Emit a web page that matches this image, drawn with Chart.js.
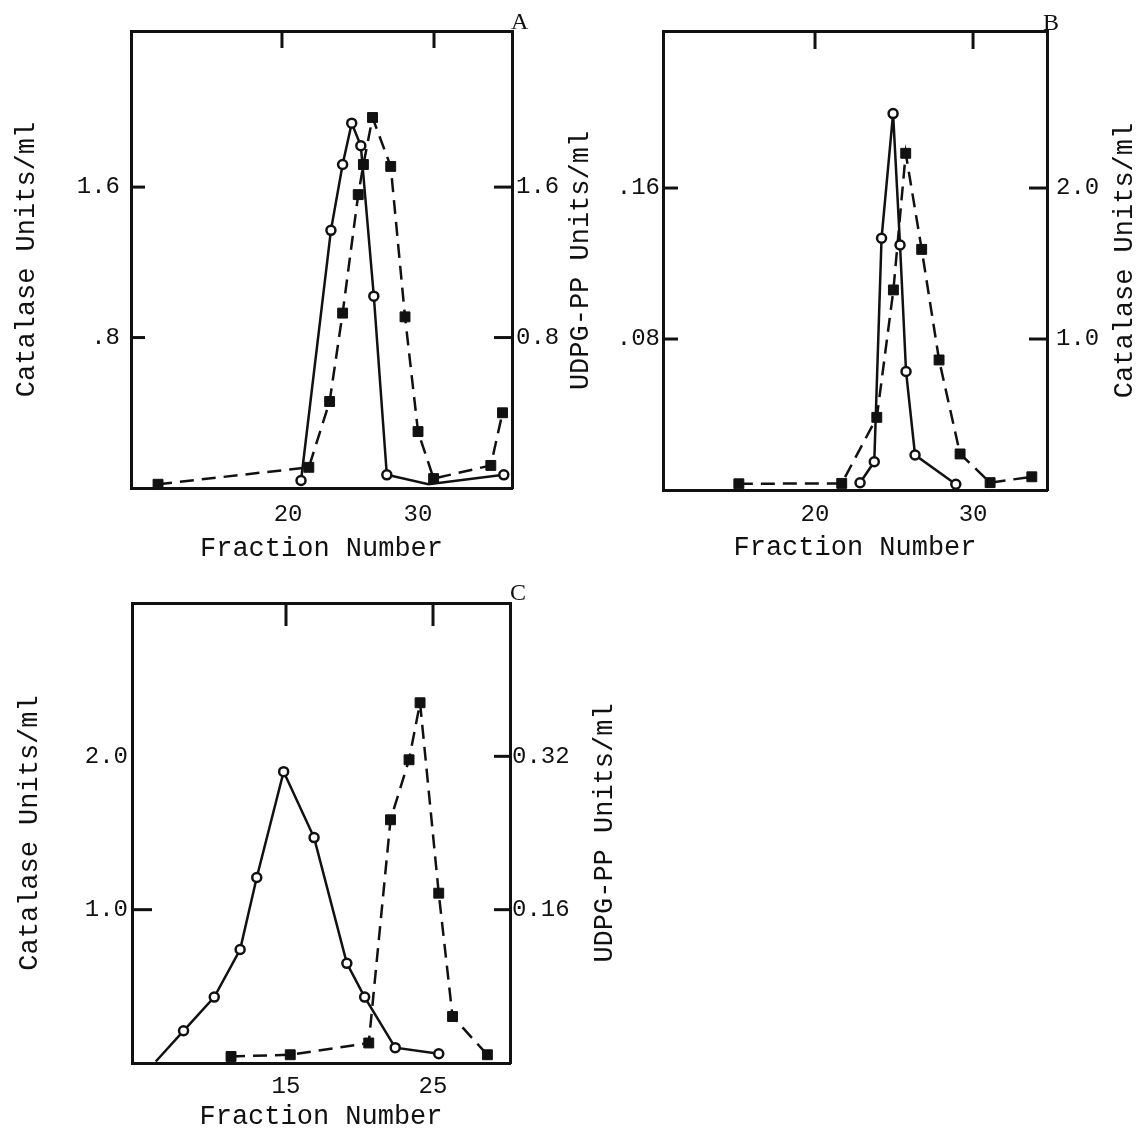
<!DOCTYPE html>
<html>
<head>
<meta charset="utf-8">
<script src="https://cdn.jsdelivr.net/npm/chart.js@4.4.1/dist/chart.umd.min.js"></script>
<style>
  html, body { margin: 0; padding: 0; background: #fff; }
  body { width: 1138px; height: 1130px; position: relative; overflow: hidden; }
  .panel { position: absolute; }
  .tag { position: absolute; font-family: "Liberation Serif", "DejaVu Serif", serif; font-size: 24px; line-height: 24px; color: #111; }
</style>
</head>
<body>
<div class="panel" style="left:0;top:0"><canvas id="chart--a" width="569" height="570"></canvas></div>
<div class="panel" style="left:540px;top:0"><canvas id="chart--b" width="598" height="570"></canvas></div>
<div class="panel" style="left:0;top:570px"><canvas id="chart--c" width="650" height="560"></canvas></div>
<div class="tag" style="left:511px;top:9px">A</div>
<div class="tag" style="left:1043px;top:10px">B</div>
<div class="tag" style="left:510px;top:580px">C</div>
<script>
/*
* three elution profiles: catalase (open circles, solid) and UDPG-PP (filled squares, dashed)
*/
const FONT = "'Liberation Mono', 'DejaVu Sans Mono', monospace";
const INK = "#111";

// panel A
const aCatX = [21.0, 23.3, 24.2, 24.9, 25.6, 26.6, 27.6, 30.8, 36.6];
const aCatY = [0.04, 1.37, 1.72, 1.94, 1.82, 1.02, 0.07, 0.02, 0.07];
const aUdpgX = [10.0, 21.6, 23.2, 24.2, 25.4, 25.8, 26.5, 27.9, 29.0, 30.0, 31.2, 35.6, 36.5];
const aUdpgY = [0.02, 0.11, 0.46, 0.93, 1.56, 1.72, 1.97, 1.71, 0.91, 0.30, 0.05, 0.12, 0.40];
const aXTicks = [20, 30];
const aXLabels = ["20", "30"];
const aLeftTicks = [0.8, 1.6];
const aLeftLabels = [".8", "1.6"];
const aRightTicks = [0.8, 1.6];
const aRightLabels = ["0.8", "1.6"];

// panel B
const bCatX = [22.85, 23.75, 24.21, 24.94, 25.38, 25.76, 26.33, 28.91];
const bCatY = [0.048, 0.187, 1.667, 2.493, 1.623, 0.785, 0.232, 0.038];
const bUdpgX = [15.18, 21.69, 23.91, 24.96, 25.74, 26.75, 27.85, 29.18, 31.08, 33.72];
const bUdpgY = [0.0033, 0.0035, 0.0385, 0.1060, 0.1784, 0.1275, 0.0689, 0.0191, 0.0039, 0.0070];
const bXTicks = [20, 30];
const bXLabels = ["20", "30"];
const bLeftTicks = [0.08, 0.16];
const bLeftLabels = [".08", ".16"];
const bRightTicks = [1.0, 2.0];
const bRightLabels = ["1.0", "2.0"];

// panel C
const cCatX = [6.14, 8.03, 10.12, 11.88, 13.01, 14.84, 16.91, 19.14, 20.35, 22.43, 25.39];
const cCatY = [0.01, 0.21, 0.43, 0.74, 1.21, 1.90, 1.47, 0.65, 0.43, 0.10, 0.06];
const cUdpgX = [11.26, 15.29, 20.63, 22.11, 23.37, 24.12, 25.39, 26.33, 28.70];
const cUdpgY = [0.0068, 0.0086, 0.0209, 0.2538, 0.3164, 0.3759, 0.1772, 0.0485, 0.0086];
const cXTicks = [15, 25];
const cXLabels = ["15", "25"];
const cLeftTicks = [1.0, 2.0];
const cLeftLabels = ["1.0", "2.0"];
const cRightTicks = [0.16, 0.32];
const cRightLabels = ["0.16", "0.32"];

function pairs(xs, ys) {
  return xs.map((x, i) => ({ x: x, y: ys[i] }));
}

// short tick marks drawn from the frame inwards
const inwardTicks = {
  id: "inwardTicks",
  afterDraw(chart, args, opts) {
    const ctx = chart.ctx;
    const area = chart.chartArea;
    ctx.save();
    ctx.strokeStyle = INK;
    ctx.lineWidth = 3;
    (opts.marks || []).forEach(m => {
      const scale = chart.scales[m.axis];
      m.values.forEach(v => {
        const p = scale.getPixelForValue(v);
        ctx.beginPath();
        if (m.axis === "y") {
          ctx.moveTo(area.left, p); ctx.lineTo(area.left + m.len, p);
        } else if (m.axis === "y2") {
          ctx.moveTo(area.right, p); ctx.lineTo(area.right - m.len, p);
        } else {
          ctx.moveTo(p, area.top); ctx.lineTo(p, area.top + m.len);
        }
        ctx.stroke();
      });
    });
    ctx.restore();
  }
};

// right-hand axis title, read bottom to top like the left one
const sideTitle = {
  id: "sideTitle",
  afterDraw(chart, args, opts) {
    if (!opts.text) return;
    const ctx = chart.ctx;
    const area = chart.chartArea;
    ctx.save();
    ctx.translate(area.right + opts.dx, (area.top + area.bottom) / 2);
    ctx.rotate(-Math.PI / 2);
    ctx.font = "27px " + FONT;
    ctx.fillStyle = INK;
    ctx.textAlign = "center";
    ctx.textBaseline = "middle";
    ctx.fillText(opts.text, 0, 0);
    ctx.restore();
  }
};

function panel(id, p) {
  const tickFont = { family: FONT, size: 24, lineHeight: 1 };
  const titleFont = { family: FONT, size: 27, lineHeight: 1 };
  const border = { display: true, width: 3, color: INK };
  const grid = { display: false, drawTicks: false };
  const fixed = vals => scale => { scale.ticks = vals.map(v => ({ value: v })); };

  return new Chart(document.getElementById(id), {
    type: "scatter",
    data: {
      datasets: [{
        label: "Catalase",
        data: pairs(p.catX, p.catY),
        yAxisID: p.catAxis,
        showLine: true,
        borderColor: INK,
        borderWidth: 2.5,
        pointStyle: "circle",
        pointRadius: c => (p.catHidden.includes(c.dataIndex) ? 0 : 4.5),
        pointBackgroundColor: "#fff",
        pointBorderColor: INK,
        pointBorderWidth: 2.5,
        clip: false
      }, {
        label: "UDPG-PP",
        data: pairs(p.udpgX, p.udpgY),
        yAxisID: p.udpgAxis,
        showLine: true,
        borderColor: INK,
        borderWidth: 2.5,
        borderDash: [14, 8],
        pointStyle: "rect",
        pointRadius: 7,
        pointBackgroundColor: INK,
        pointBorderColor: INK,
        pointBorderWidth: 1,
        clip: false
      }]
    },
    options: {
      responsive: false,
      animation: false,
      events: [],
      layout: { padding: 0, autoPadding: false },
      plugins: {
        legend: { display: false },
        tooltip: { enabled: false },
        inwardTicks: { marks: p.marks },
        sideTitle: { text: p.rightTitle, dx: p.rightTitleDx }
      },
      scales: {
        x: {
          type: "linear",
          position: "bottom",
          min: p.xMin,
          max: p.xMax,
          afterBuildTicks: fixed(p.xTicks),
          afterFit: s => { s.height = p.bottomH; },
          grid: grid,
          border: border,
          ticks: {
            font: tickFont, color: INK, padding: p.xPad,
            autoSkip: false, maxRotation: 0,
            callback: (v, i) => p.xLabels[i]
          },
          title: {
            display: true, text: "Fraction Number", font: titleFont, color: INK,
            padding: { top: 0, bottom: p.xTitlePad }
          }
        },
        xt: {
          type: "linear",
          position: "top",
          min: p.topMin,
          max: p.topMax,
          afterFit: s => { s.height = p.topH; },
          grid: grid,
          border: border,
          ticks: { display: false }
        },
        y: {
          type: "linear",
          position: "left",
          min: p.leftMin,
          max: p.leftMax,
          afterBuildTicks: fixed(p.leftTicks),
          afterFit: s => { s.width = p.leftW; },
          grid: grid,
          border: border,
          ticks: {
            font: tickFont, color: INK, padding: p.leftPad, autoSkip: false,
            callback: (v, i) => p.leftLabels[i]
          },
          title: {
            display: true, text: p.leftTitle, font: titleFont, color: INK,
            padding: { top: p.leftTitlePad, bottom: 0 }
          }
        },
        y2: {
          type: "linear",
          position: "right",
          min: p.rightMin,
          max: p.rightMax,
          afterBuildTicks: fixed(p.rightTicks),
          afterFit: s => { s.width = p.rightW; },
          grid: grid,
          border: border,
          ticks: {
            font: tickFont, color: INK, padding: p.rightPad, autoSkip: false,
            callback: (v, i) => p.rightLabels[i]
          }
        }
      }
    },
    plugins: [inwardTicks, sideTitle]
  });
}

let chartA = panel("chart--a", {
  catX: aCatX, catY: aCatY, catAxis: "y", catHidden: [7],
  udpgX: aUdpgX, udpgY: aUdpgY, udpgAxis: "y2",
  xMin: 7.92, xMax: 37.23, topMin: 10.07, topMax: 35.13,
  xTicks: aXTicks, xLabels: aXLabels,
  leftMin: 0, leftMax: 2.43, leftTicks: aLeftTicks, leftLabels: aLeftLabels,
  rightMin: 0, rightMax: 2.43, rightTicks: aRightTicks, rightLabels: aRightLabels,
  leftTitle: "Catalase Units/ml", rightTitle: "", rightTitleDx: 0,
  leftW: 131, rightW: 57, topH: 31, bottomH: 82,
  xPad: 15, xTitlePad: 8, leftPad: 11, leftTitlePad: 13, rightPad: 4,
  marks: [
    { axis: "xt", values: aXTicks, len: 17 },
    { axis: "y", values: aLeftTicks, len: 14 },
    { axis: "y2", values: aRightTicks, len: 18 }
  ]
});

let chartB = panel("chart--b", {
  catX: bCatX, catY: bCatY, catAxis: "y2", catHidden: [],
  udpgX: bUdpgX, udpgY: bUdpgY, udpgAxis: "y",
  xMin: 10.38, xMax: 34.68, topMin: 10.38, topMax: 34.68,
  xTicks: bXTicks, xLabels: bXLabels,
  leftMin: 0, leftMax: 0.2432, leftTicks: bLeftTicks, leftLabels: bLeftLabels,
  rightMin: 0, rightMax: 3.04, rightTicks: bRightTicks, rightLabels: bRightLabels,
  leftTitle: "UDPG-PP Units/ml", rightTitle: "Catalase Units/ml", rightTitleDx: 78,
  leftW: 123, rightW: 91, topH: 31, bottomH: 80,
  xPad: 13, xTitlePad: 9, leftPad: 3, leftTitlePad: 27, rightPad: 9,
  marks: [
    { axis: "xt", values: bXTicks, len: 18 },
    { axis: "y", values: bLeftTicks, len: 15 },
    { axis: "y2", values: bRightTicks, len: 18 }
  ]
});

let chartC = panel("chart--c", {
  catX: cCatX, catY: cCatY, catAxis: "y", catHidden: [0],
  udpgX: cUdpgX, udpgY: cUdpgY, udpgAxis: "y2",
  xMin: 4.524, xMax: 30.238, topMin: 4.524, topMax: 30.238,
  xTicks: cXTicks, xLabels: cXLabels,
  leftMin: 0, leftMax: 3.0, leftTicks: cLeftTicks, leftLabels: cLeftLabels,
  rightMin: 0, rightMax: 0.48, rightTicks: cRightTicks, rightLabels: cRightLabels,
  leftTitle: "Catalase Units/ml", rightTitle: "UDPG-PP Units/ml", rightTitleDx: 95,
  leftW: 132, rightW: 140, topH: 33, bottomH: 67,
  xPad: 12, xTitlePad: 0, leftPad: 4, leftTitlePad: 16, rightPad: 2,
  marks: [
    { axis: "xt", values: cXTicks, len: 23 },
    { axis: "y", values: [1.0], len: 20 },
    { axis: "y2", values: cRightTicks, len: 16 }
  ]
});
</script>
</body>
</html>
